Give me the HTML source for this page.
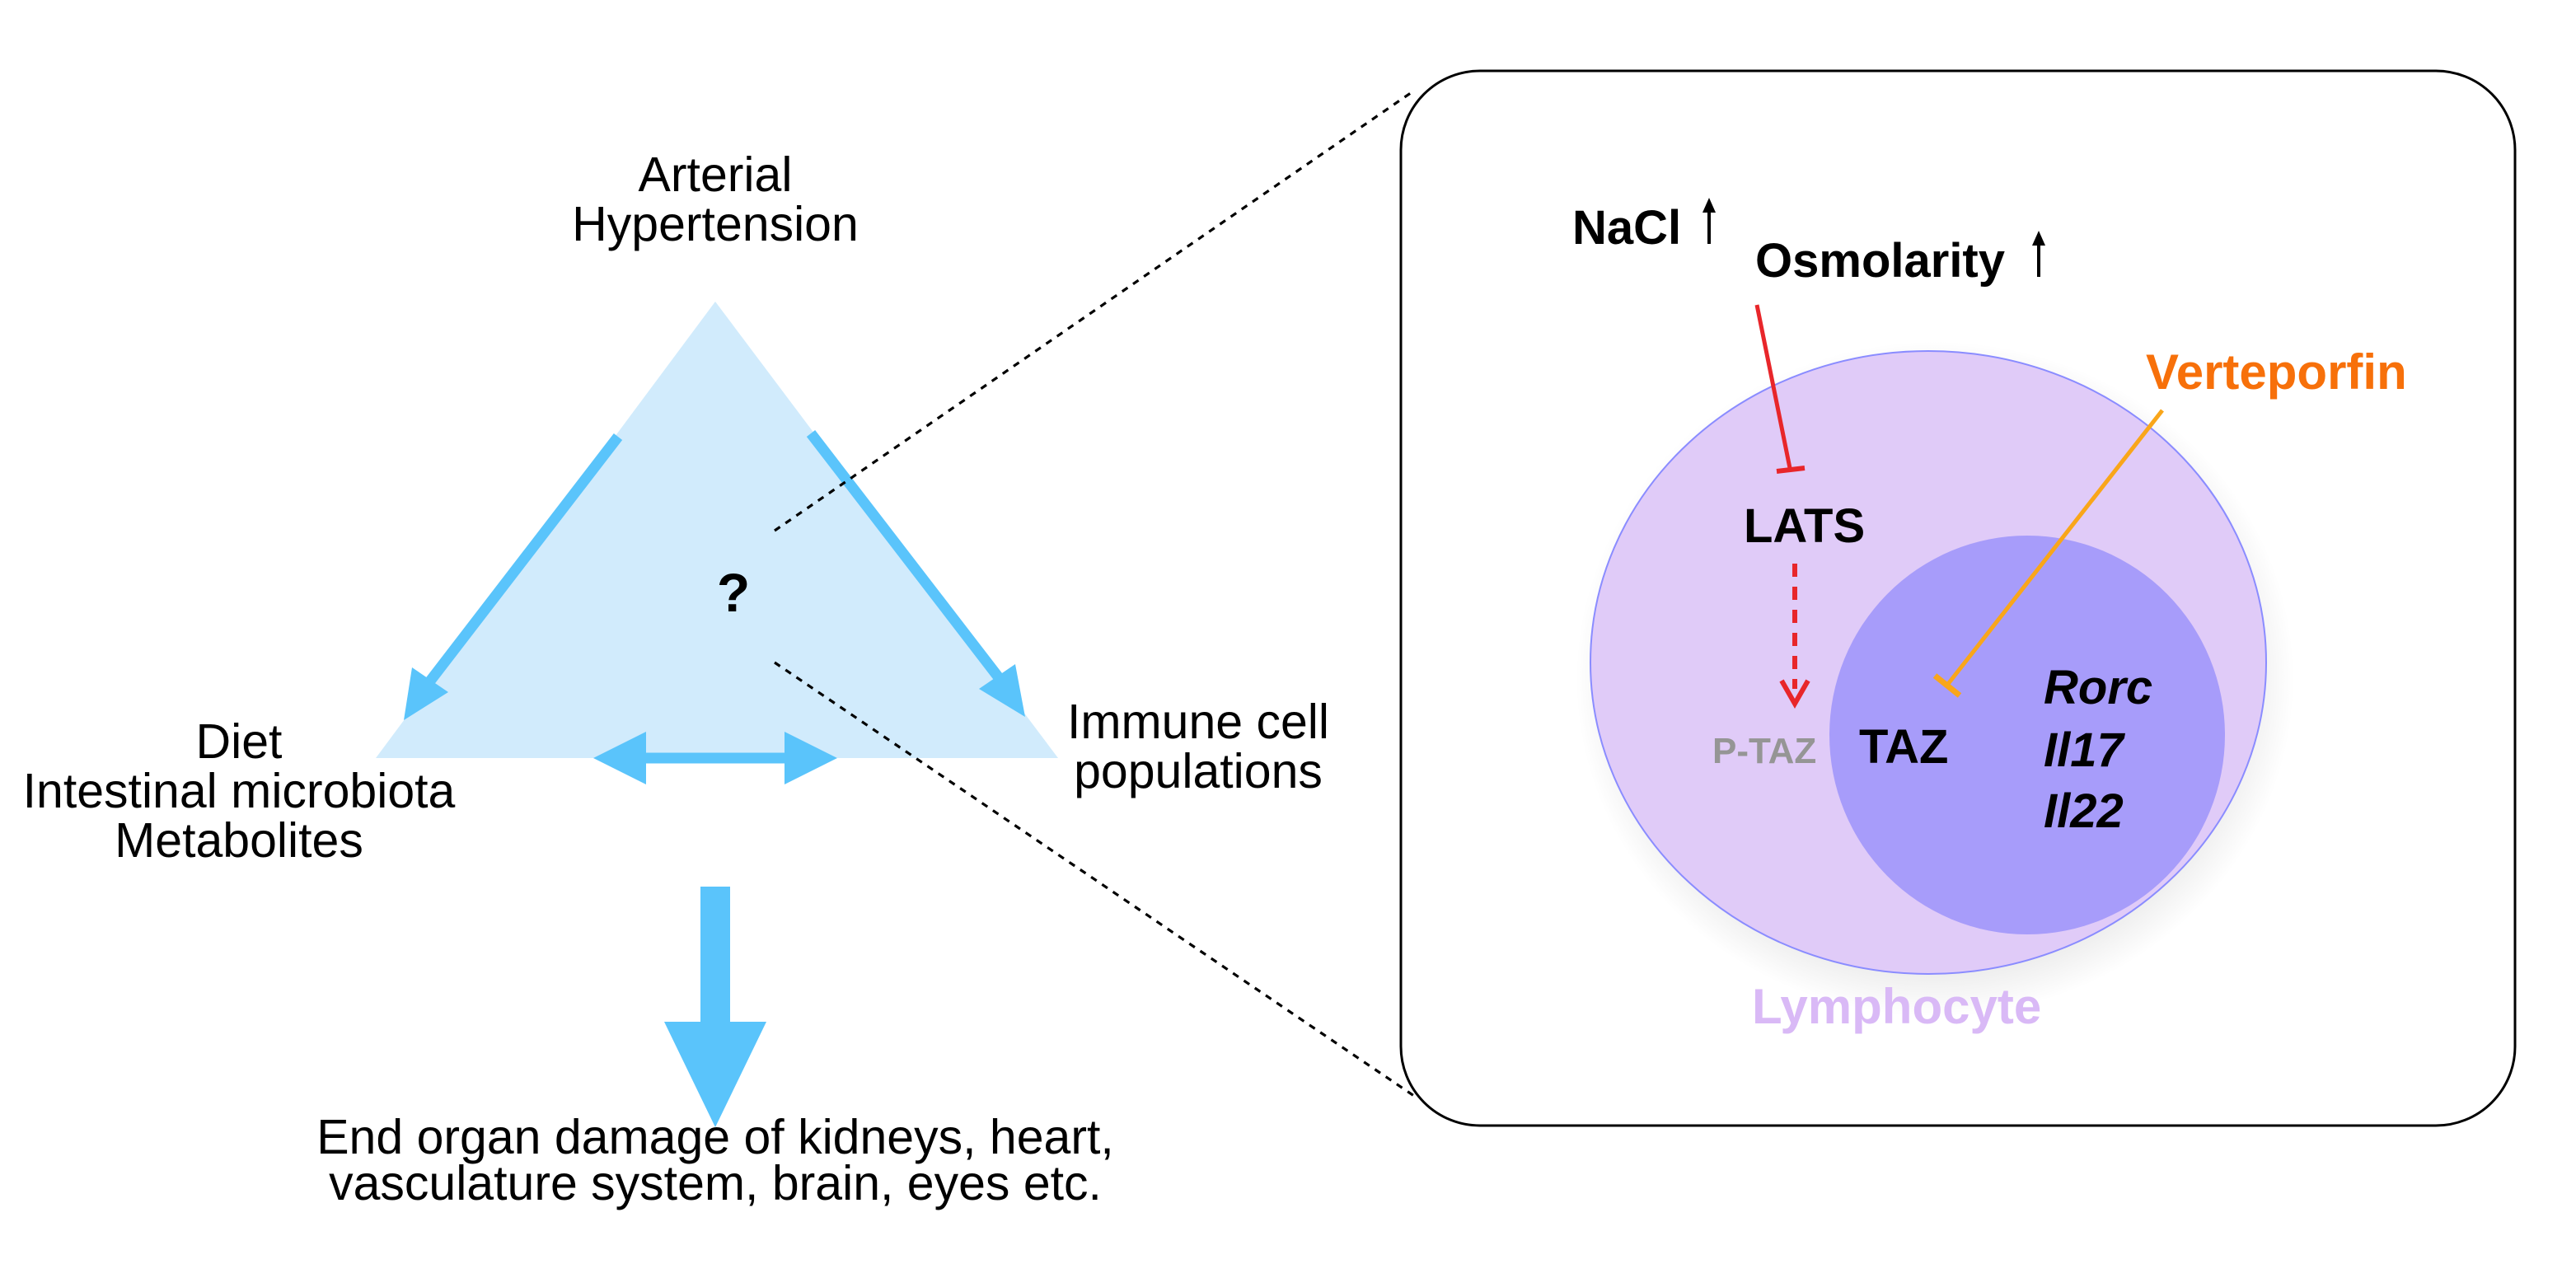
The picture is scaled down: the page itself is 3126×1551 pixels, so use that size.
<!DOCTYPE html>
<html><head><meta charset="utf-8"><style>
html,body{margin:0;padding:0;background:#fff}
svg{display:block}
text{font-family:"Liberation Sans",sans-serif}
</style></head><body>
<svg width="3126" height="1551" viewBox="0 0 1563 775.5" xmlns="http://www.w3.org/2000/svg">
<defs>
<radialGradient id="sh" cx="50%" cy="50%" r="50%">
<stop offset="85%" stop-color="#000" stop-opacity="0.08"/>
<stop offset="100%" stop-color="#000" stop-opacity="0"/>
</radialGradient>
</defs>
<g font-size="29.5" fill="#000" text-anchor="middle">
<text x="434" y="116">Arterial</text>
<text x="434" y="146">Hypertension</text>
<text x="145" y="460">Diet</text>
<text x="145" y="490">Intestinal microbiota</text>
<text x="145" y="520">Metabolites</text>
<text x="727" y="448">Immune cell</text>
<text x="727" y="478">populations</text>
<text x="434" y="700">End organ damage of kidneys, heart,</text>
<text x="434" y="728">vasculature system, brain, eyes etc.</text>
</g>
<polygon points="434,183 642,460 228,460" fill="#d1ebfc"/>
<g stroke="#5ac4fb" stroke-width="6.5" fill="none">
<line x1="375" y1="265" x2="255" y2="421"/>
<line x1="492" y1="263" x2="612" y2="419"/>
<line x1="390" y1="460" x2="478" y2="460"/>
</g>
<g fill="#5ac4fb">
<polygon points="245,437 250,405 272,420"/>
<polygon points="622,435 616,403 594,418"/>
<polygon points="360,460 392,444 392,476"/>
<polygon points="508,460 476,444 476,476"/>
<rect x="425" y="538" width="18" height="84"/>
<polygon points="403,620 465,620 434,684"/>
</g>
<text x="445" y="371" font-size="33" font-weight="bold" text-anchor="middle">?</text>
<g stroke="#000" stroke-width="1.6" stroke-dasharray="4,4" fill="none">
<line x1="470" y1="322" x2="858" y2="55"/>
<line x1="470" y1="402" x2="858" y2="665"/>
</g>
<rect x="850" y="43" width="676" height="640" rx="48" ry="48" fill="#fff" stroke="#000" stroke-width="1.5"/>
<ellipse cx="1174" cy="412" rx="218" ry="205" fill="url(#sh)"/>
<ellipse cx="1170" cy="402" rx="205" ry="189" fill="#e0cbf8" stroke="#8a8cff" stroke-width="1"/>
<ellipse cx="1230" cy="446" rx="120" ry="121" fill="#a79cfa"/>
<g font-weight="bold" font-size="29" fill="#000">
<text x="954" y="148">NaCl</text>
<text x="1065" y="168">Osmolarity</text>
</g>
<g stroke="#000" stroke-width="2" fill="#000">
<line x1="1037" y1="148" x2="1037" y2="127"/>
<polygon points="1037,120 1033,129 1041,129" stroke="none"/>
<line x1="1237" y1="168" x2="1237" y2="147"/>
<polygon points="1237,140 1233,149 1241,149" stroke="none"/>
</g>
<line x1="1066" y1="185" x2="1086" y2="284" stroke="#e8262a" stroke-width="2.5"/>
<line x1="1078" y1="286" x2="1095" y2="284" stroke="#e8262a" stroke-width="3"/>
<text x="1058" y="329" font-size="29" font-weight="bold">LATS</text>
<line x1="1089" y1="342" x2="1089" y2="418" stroke="#e8262a" stroke-width="3" stroke-dasharray="8,6"/>
<polyline points="1081,413 1089,427 1097,413" stroke="#e8262a" stroke-width="3" fill="none"/>
<text x="1302" y="236" font-size="30" font-weight="bold" fill="#f7700a">Verteporfin</text>
<line x1="1312" y1="249" x2="1182" y2="415" stroke="#f9a61a" stroke-width="2.5"/>
<line x1="1174" y1="410" x2="1189" y2="422" stroke="#f9a61a" stroke-width="3.5"/>
<text x="1039" y="463" font-size="22" font-weight="bold" fill="#959595">P-TAZ</text>
<text x="1128" y="463" font-size="29" font-weight="bold">TAZ</text>
<g font-size="29" font-weight="bold" font-style="italic">
<text x="1240" y="427">Rorc</text>
<text x="1240" y="465">Il17</text>
<text x="1240" y="502">Il22</text>
</g>
<text x="1063" y="621" font-size="30" font-weight="bold" fill="#d9b9f6">Lymphocyte</text>
</svg>
</body></html>
